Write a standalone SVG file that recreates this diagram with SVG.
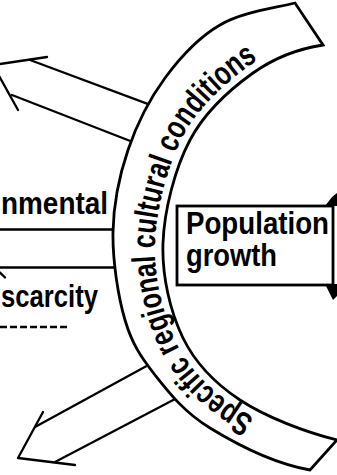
<svg xmlns="http://www.w3.org/2000/svg" width="337" height="475" viewBox="0 0 337 475">
<style>
.ln{fill:none;stroke:#000;stroke-width:2.3;stroke-linecap:round;stroke-linejoin:round}
.head{fill:#000;stroke:none}
.band{fill:#fff;stroke:#000;stroke-width:2.8;stroke-linejoin:miter}
.box{fill:#fff;stroke:#000;stroke-width:2.8}
.lbl{font-family:"Liberation Sans",Arial,sans-serif;font-weight:bold;font-size:32px;fill:#000}
.arc{font-family:"Liberation Sans",Arial,sans-serif;font-weight:bold;font-size:33px;fill:#000}
</style>
<defs>
<path id="tp" d="M335,448 C303,440 261.3,423.7 235.6,406.7 C209.9,389.7 188.6,367.7 175.8,341.5 C163,315.3 153.8,275.7 155,242.7 C156.2,209.7 167.9,164.6 182.9,136.3 C197.9,108 226.2,82.3 248.4,66.5 C270.6,50.7 297.1,40.9 321.8,37.1"/>
</defs>
<g id="connectors" class="ln">
<line x1="155" y1="106.7" x2="30" y2="60"/>
<polyline points="47,57 -7,65 18,110"/>
<line x1="12" y1="95" x2="138" y2="144"/>
<line x1="153" y1="362.5" x2="35" y2="427"/>
<polyline points="43,412 18,458 75,465"/>
<line x1="55" y1="462" x2="177" y2="398"/>
<line x1="0" y1="229.5" x2="125" y2="229.5"/>
<line x1="0" y1="267.5" x2="125" y2="267.5"/>
<line x1="0" y1="272.5" x2="5" y2="277.5"/>
<line x1="0" y1="327" x2="70" y2="327" stroke-dasharray="7 3" stroke-linecap="butt"/>
<polygon class="head" points="325,206 332,197 337,193 337,206"/>
<polygon class="head" points="325,284 337,284 337,296 333,300"/>
</g>
<g id="band">
<path class="band" d="M295,3 C270,9 241.7,12.5 220,25 C198.3,37.5 180.3,57.2 165,78 C149.7,98.8 136.7,124.3 128,150 C119.3,175.7 113.5,203.7 113,232 C112.5,260.3 118,296.2 125,320 C132,343.8 140.8,357 155,375 C169.2,393 184.2,412.2 210,428 C235.8,443.8 274.6,463.7 310,470 L337,440 C305,432 265.7,417 240,400 C214.3,383 195.8,364.2 183,338 C170.2,311.8 161.8,276 163,243 C164.2,210 175,168.3 190,140 C205,111.7 230.8,88.8 253,73 C275.2,57.2 298.3,48.8 323,45 Z"/>
<text class="arc"><textPath href="#tp" startOffset="86" textLength="432" lengthAdjust="spacingAndGlyphs">Specific regional cultural conditions</textPath></text>
</g>
<g id="population">
<rect class="box" x="177" y="206" width="156" height="79"/>
<text class="lbl" x="186" y="234" textLength="143" lengthAdjust="spacingAndGlyphs">Population</text>
<text class="lbl" x="186" y="266" textLength="91" lengthAdjust="spacingAndGlyphs">growth</text>
</g>
<g id="environmental">
<text class="lbl" x="1" y="214" textLength="107" lengthAdjust="spacingAndGlyphs">nmental</text>
</g>
<g id="scarcity">
<text class="lbl" x="1" y="307" textLength="97" lengthAdjust="spacingAndGlyphs">scarcity</text>
</g>
</svg>
